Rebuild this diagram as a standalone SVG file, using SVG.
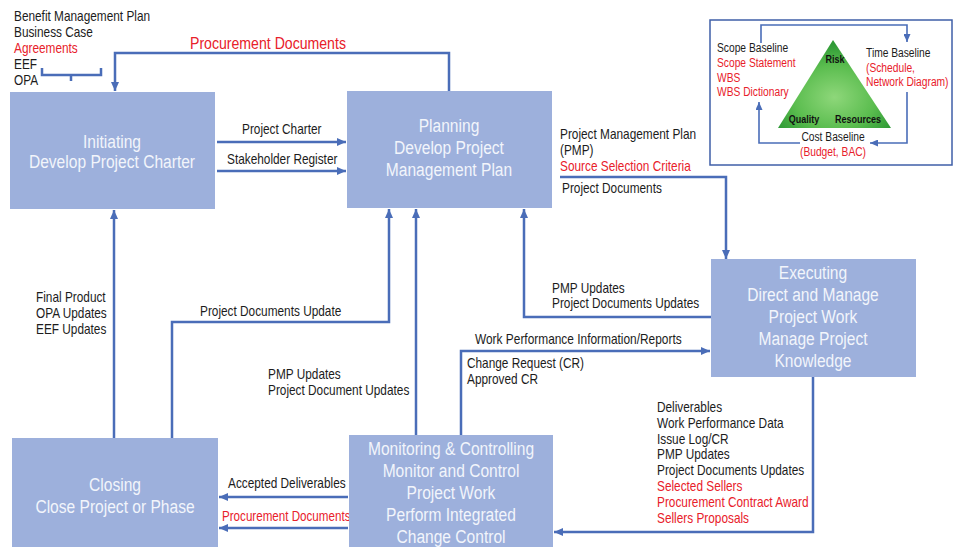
<svg xmlns="http://www.w3.org/2000/svg" width="953" height="549" viewBox="0 0 953 549">
<style>
text{font-family:"Liberation Sans",Arial,sans-serif;}
.lb{font-size:14px;fill:#1c1c1c;}
.bt{font-size:19px;fill:#f2f5fb;text-anchor:middle;}
.in{font-size:12.5px;fill:#1c1c1c;}
.tri{font-size:11px;font-weight:bold;fill:#111;text-anchor:middle;}
.mid{text-anchor:middle;}
text.red{fill:#e8202a;}
.box{fill:#9db0dc;}
.con{fill:none;stroke:#4a6db8;stroke-width:2.5;}
.thin{fill:none;stroke:#4a6db8;stroke-width:1.6;}
</style>
<defs>
<marker id="ah" markerUnits="userSpaceOnUse" markerWidth="9" markerHeight="8" refX="9" refY="4" orient="auto">
<path d="M0,0 L9,4 L0,8 z" fill="#4a6db8"/>
</marker>
<marker id="ahs" markerUnits="userSpaceOnUse" markerWidth="8" markerHeight="7" refX="8" refY="3.5" orient="auto">
<path d="M0,0 L8,3.5 L0,7 z" fill="#4a6db8"/>
</marker>
<radialGradient id="tg" cx="0.5" cy="0.65" r="0.6">
<stop offset="0" stop-color="#8ed77a"/>
<stop offset="0.6" stop-color="#5bbd4f"/>
<stop offset="1" stop-color="#2f9a36"/>
</radialGradient>
</defs>

<g id="connectors">
<path class="con" d="M449,91 V53 H115 V91" marker-end="url(#ah)"/>
<path class="con" d="M42,68 V75 H101 V68 M71,75 V81"/>
<path class="con" d="M217,142 H346" marker-end="url(#ah)"/>
<path class="con" d="M217,171 H346" marker-end="url(#ah)"/>
<path class="con" d="M560,177 H726 V259" marker-end="url(#ah)"/>
<path class="con" d="M711,317 H524 V209" marker-end="url(#ah)"/>
<path class="con" d="M461,435 V351 H710" marker-end="url(#ah)"/>
<path class="con" d="M416,435 V209" marker-end="url(#ah)"/>
<path class="con" d="M172,438 V322 H389 V209" marker-end="url(#ah)"/>
<path class="con" d="M114,438 V210" marker-end="url(#ah)"/>
<path class="con" d="M348,497 H219" marker-end="url(#ah)"/>
<path class="con" d="M348,528 H219" marker-end="url(#ah)"/>
<path class="con" d="M813,377 V532 H554" marker-end="url(#ah)"/>
</g>

<g id="labels">
<text class="lb" transform="translate(14,21) scale(.845,1)">Benefit Management Plan</text>
<text class="lb" transform="translate(14,37) scale(.845,1)">Business Case</text>
<text class="lb red" transform="translate(14,53) scale(.845,1)">Agreements</text>
<text class="lb" transform="translate(14,69) scale(.845,1)">EEF</text>
<text class="lb" transform="translate(14,85) scale(.845,1)">OPA</text>
<text class="lb red" style="font-size:17px" transform="translate(190,49) scale(.83,1)">Procurement Documents</text>
<text class="lb" transform="translate(242,134) scale(.845,1)">Project Charter</text>
<text class="lb" transform="translate(227,164) scale(.845,1)">Stakeholder Register</text>
<text class="lb" transform="translate(560,139) scale(.845,1)">Project Management Plan</text>
<text class="lb" transform="translate(560,155) scale(.845,1)">(PMP)</text>
<text class="lb red" transform="translate(560,171) scale(.845,1)">Source Selection Criteria</text>
<text class="lb" transform="translate(562,193) scale(.845,1)">Project Documents</text>
<text class="lb" transform="translate(552,293) scale(.845,1)">PMP Updates</text>
<text class="lb" transform="translate(552,308) scale(.845,1)">Project Documents Updates</text>
<text class="lb" transform="translate(475,344) scale(.85,1)">Work Performance Information/Reports</text>
<text class="lb" transform="translate(467,368) scale(.845,1)">Change Request (CR)</text>
<text class="lb" transform="translate(467,384) scale(.845,1)">Approved CR</text>
<text class="lb" transform="translate(200,316) scale(.845,1)">Project Documents Update</text>
<text class="lb" transform="translate(36,302) scale(.845,1)">Final Product</text>
<text class="lb" transform="translate(36,318) scale(.845,1)">OPA Updates</text>
<text class="lb" transform="translate(36,334) scale(.845,1)">EEF Updates</text>
<text class="lb" transform="translate(268,379) scale(.845,1)">PMP Updates</text>
<text class="lb" transform="translate(268,395) scale(.845,1)">Project Document Updates</text>
<text class="lb" transform="translate(228,488) scale(.845,1)">Accepted Deliverables</text>
<text class="lb red" transform="translate(222,521) scale(.83,1)">Procurement Documents</text>
<text class="lb" transform="translate(657,412) scale(.845,1)">Deliverables</text>
<text class="lb" transform="translate(657,428) scale(.845,1)">Work Performance Data</text>
<text class="lb" transform="translate(657,444) scale(.845,1)">Issue Log/CR</text>
<text class="lb" transform="translate(657,459) scale(.845,1)">PMP Updates</text>
<text class="lb" transform="translate(657,475) scale(.845,1)">Project Documents Updates</text>
<text class="lb red" transform="translate(657,491) scale(.845,1)">Selected Sellers</text>
<text class="lb red" transform="translate(657,507) scale(.845,1)">Procurement Contract Award</text>
<text class="lb red" transform="translate(657,523) scale(.845,1)">Sellers Proposals</text>
</g>

<g id="initiating">
<rect class="box" x="10" y="92" width="205" height="117"/>
<text class="bt" transform="translate(112,148) scale(.82,1)">Initiating</text>
<text class="bt" transform="translate(112,168) scale(.82,1)">Develop Project Charter</text>
</g>
<g id="planning">
<rect class="box" x="347" y="91" width="205" height="117"/>
<text class="bt" transform="translate(449,132) scale(.82,1)">Planning</text>
<text class="bt" transform="translate(449,154) scale(.82,1)">Develop Project</text>
<text class="bt" transform="translate(449,176) scale(.82,1)">Management Plan</text>
</g>
<g id="executing">
<rect class="box" x="711" y="259" width="205" height="118"/>
<text class="bt" transform="translate(813,279) scale(.82,1)">Executing</text>
<text class="bt" transform="translate(813,301) scale(.82,1)">Direct and Manage</text>
<text class="bt" transform="translate(813,323) scale(.82,1)">Project Work</text>
<text class="bt" transform="translate(813,345) scale(.82,1)">Manage Project</text>
<text class="bt" transform="translate(813,367) scale(.82,1)">Knowledge</text>
</g>
<g id="monitoring">
<rect class="box" x="349" y="435" width="204" height="112"/>
<text class="bt" transform="translate(451,455) scale(.82,1)">Monitoring &amp; Controlling</text>
<text class="bt" transform="translate(451,477) scale(.82,1)">Monitor and Control</text>
<text class="bt" transform="translate(451,499) scale(.82,1)">Project Work</text>
<text class="bt" transform="translate(451,521) scale(.82,1)">Perform Integrated</text>
<text class="bt" transform="translate(451,543) scale(.82,1)">Change Control</text>
</g>
<g id="closing">
<rect class="box" x="12" y="438" width="206" height="109"/>
<text class="bt" transform="translate(115,491) scale(.82,1)">Closing</text>
<text class="bt" transform="translate(115,513) scale(.82,1)">Close Project or Phase</text>
</g>

<g id="baselines">
<rect x="710" y="20" width="242" height="145" fill="none" stroke="#3f5fa8" stroke-width="1.5"/>
<polygon points="833,40 778,128 891,128" fill="url(#tg)"/>
<text class="tri" transform="translate(835,63) scale(.82,1)">Risk</text>
<text class="tri" transform="translate(804,123) scale(.82,1)">Quality</text>
<text class="tri" transform="translate(858,123) scale(.82,1)">Resources</text>
<path class="thin" d="M761,43 V25 H907 V42" marker-end="url(#ahs)"/>
<path class="thin" d="M907,92 V143 H870" marker-end="url(#ahs)"/>
<path class="thin" d="M800,143 H759 V102" marker-end="url(#ahs)"/>
<text class="in" transform="translate(717,52) scale(.82,1)">Scope Baseline</text>
<text class="in red" transform="translate(717,67) scale(.82,1)">Scope Statement</text>
<text class="in red" transform="translate(717,82) scale(.82,1)">WBS</text>
<text class="in red" transform="translate(717,96) scale(.82,1)">WBS Dictionary</text>
<text class="in" transform="translate(866,57) scale(.82,1)">Time Baseline</text>
<text class="in red" transform="translate(866,72) scale(.82,1)">(Schedule,</text>
<text class="in red" transform="translate(866,86) scale(.82,1)">Network Diagram)</text>
<text class="in mid" transform="translate(833,141) scale(.82,1)">Cost Baseline</text>
<text class="in red mid" transform="translate(833,156) scale(.82,1)">(Budget, BAC)</text>
</g>
</svg>
